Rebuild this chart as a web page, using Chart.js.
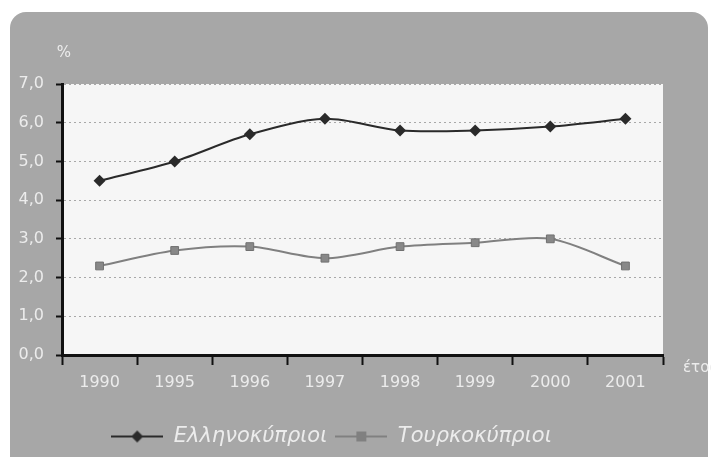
<!DOCTYPE html>
<html>
<head>
<meta charset="utf-8">
<script src="https://cdn.jsdelivr.net/npm/chart.js@4/dist/chart.umd.min.js"></script>
<style>
html,body{margin:0;padding:0;background:#fff;}
#wrap{width:711px;height:457px;position:relative;}
</style>
</head>
<body>
<div id="wrap"><canvas id="c" width="711" height="457"></canvas></div>
<script>
const years = ['1990','1995','1996','1997','1998','1999','2000','2001'];
const greekCypriots = [4.5, 5.0, 5.7, 6.1, 5.8, 5.8, 5.9, 6.1];
const turkishCypriots = [2.3, 2.7, 2.8, 2.5, 2.8, 2.9, 3.0, 2.3];
const seriesNames = ['Ελληνοκύπριοι', 'Τουρκοκύπριοι'];
const yTitle = '%';
const xTitle = 'έτος';

const FONT = '"DejaVu Sans", "Noto Sans", sans-serif';
const LIGHT = '#ececec';

function legendIcon(style, color) {
  const cv = document.createElement('canvas');
  cv.width = 52; cv.height = 14;
  const g = cv.getContext('2d');
  g.strokeStyle = color; g.lineWidth = 2;
  g.beginPath(); g.moveTo(0, 7); g.lineTo(52, 7); g.stroke();
  g.fillStyle = color;
  if (style === 'diamond') {
    g.beginPath(); g.moveTo(26, 1); g.lineTo(32, 7); g.lineTo(26, 13); g.lineTo(20, 7); g.closePath(); g.fill();
  } else {
    g.fillRect(21, 2, 10, 10);
  }
  return cv;
}

const bgPlugin = {
  id: 'bg',
  beforeDraw(chart) {
    const ctx = chart.ctx;
    ctx.save();
    ctx.fillStyle = '#a7a7a7';
    ctx.beginPath();
    ctx.roundRect(10, 12, 698, 470, 16);
    ctx.fill();
    const a = chart.chartArea;
    ctx.fillStyle = '#f6f6f6';
    ctx.fillRect(a.left, a.top, a.right - a.left, a.bottom - a.top);
    ctx.restore();
  },
  afterDraw(chart) {
    const ctx = chart.ctx;
    const a = chart.chartArea;
    ctx.save();
    ctx.fillStyle = LIGHT;
    ctx.font = '15px ' + FONT;
    ctx.textAlign = 'center';
    ctx.textBaseline = 'middle';
    ctx.fillText(yTitle, a.left + 2, 53);
    ctx.textAlign = 'left';
    ctx.fillText(xTitle, a.right + 20, a.bottom + 13);
    ctx.restore();
  }
};

new Chart(document.getElementById('c'), {
  type: 'line',
  data: {
    labels: years,
    datasets: [
      {
        label: seriesNames[0],
        data: greekCypriots,
        borderColor: '#2a2a2a',
        backgroundColor: '#2a2a2a',
        borderWidth: 2,
        pointStyle: 'rectRot',
        pointRadius: 6,
        pointBorderWidth: 0,
        tension: 0.3
      },
      {
        label: seriesNames[1],
        data: turkishCypriots,
        borderColor: '#808080',
        backgroundColor: '#888888',
        borderWidth: 2,
        pointStyle: 'rect',
        pointRadius: 5.5,
        pointBorderWidth: 1,
        pointBorderColor: '#707070',
        tension: 0.3
      }
    ]
  },
  options: {
    responsive: false,
    animation: false,
    devicePixelRatio: 1,
    layout: { padding: { left: 0, top: 84, right: 48, bottom: 0 } },
    plugins: {
      tooltip: { enabled: false },
      legend: {
        position: 'bottom',
        labels: {
          usePointStyle: true,
          pointStyleWidth: 52,
          boxHeight: 14,
          padding: 8,
          color: LIGHT,
          font: { family: FONT, size: 21, style: 'italic' },
          generateLabels(chart) {
            return chart.data.datasets.map((ds, i) => ({
              text: ds.label,
              pointStyle: legendIcon(i === 0 ? 'diamond' : 'square', ds.borderColor),
              fontColor: LIGHT,
              hidden: false,
              lineWidth: 0,
              strokeStyle: 'transparent',
              fillStyle: 'transparent',
              datasetIndex: i
            }));
          }
        }
      }
    },
    scales: {
      x: {
        offset: true,
        grid: {
          offset: true,
          drawOnChartArea: false,
          drawTicks: true,
          tickLength: 10,
          tickColor: '#111',
          tickWidth: 2
        },
        border: { display: true, color: '#111', width: 3 },
        ticks: {
          color: LIGHT,
          font: { family: FONT, size: 16 },
          padding: 8,
          maxRotation: 0,
          autoSkip: false
        },
        afterFit(scale) { scale.height = 63; }
      },
      y: {
        min: 0,
        max: 7,
        grid: {
          color: '#a8a8a8',
          lineWidth: 1,
          drawTicks: true,
          tickLength: 6,
          tickColor: '#111',
          tickWidth: 2,
          tickBorderDash: []
        },
        border: { display: true, color: '#111', width: 3, dash: [2, 3] },
        ticks: {
          stepSize: 1,
          color: LIGHT,
          font: { family: FONT, size: 16 },
          padding: 12,
          callback: v => v.toFixed(1).replace('.', ',')
        },
        afterFit(scale) { scale.width = 62; }
      }
    }
  },
  plugins: [bgPlugin]
});
</script>
</body>
</html>
